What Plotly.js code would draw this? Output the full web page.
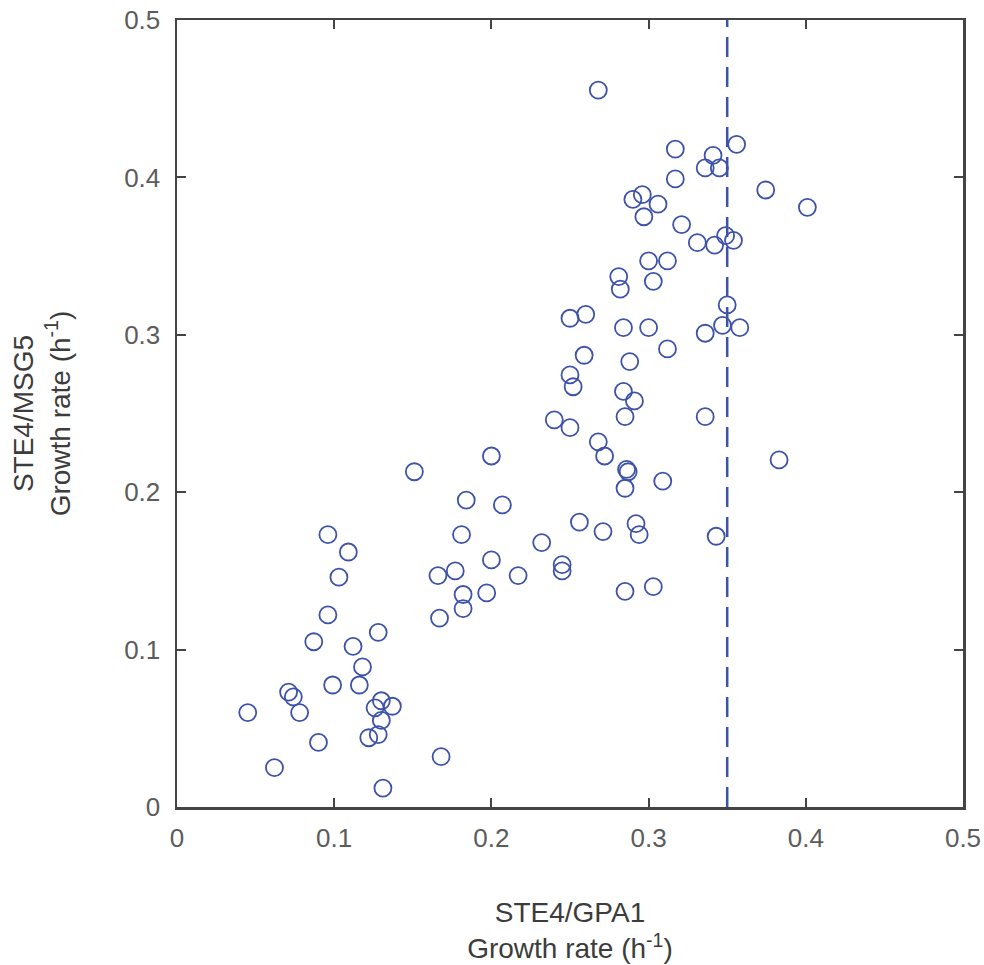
<!DOCTYPE html>
<html>
<head>
<meta charset="utf-8">
<script src="https://cdn.plot.ly/plotly-3.0.1.min.js"></script>
<style>html,body{margin:0;padding:0;background:#fff;}#chart{width:984px;height:965px;}</style>
</head>
<body>
<div id="chart"></div>
<script>
// STE4/GPA1 growth rate (x) vs STE4/MSG5 growth rate (y)
const gpa1Rate = [
  0.096, 0.109, 0.103, 0.096, 0.128, 0.087, 0.112, 0.118, 0.099, 0.116,
  0.071, 0.074, 0.045, 0.078, 0.130, 0.126, 0.137, 0.130, 0.122, 0.128,
  0.090, 0.062, 0.131, 0.168,
  0.166, 0.177, 0.167, 0.182, 0.182, 0.197, 0.200, 0.217, 0.181, 0.184,
  0.207, 0.151, 0.200, 0.232, 0.245, 0.245, 0.256, 0.271, 0.292, 0.294,
  0.285, 0.303, 0.343, 0.286, 0.287, 0.285, 0.309, 0.383, 0.272, 0.268,
  0.240, 0.250, 0.285, 0.336, 0.284, 0.291, 0.252, 0.250, 0.259, 0.288,
  0.312, 0.250, 0.260, 0.284, 0.300, 0.336, 0.347, 0.358, 0.350, 0.281,
  0.303, 0.282, 0.300, 0.312, 0.331, 0.342, 0.349, 0.354, 0.321, 0.297,
  0.290, 0.296, 0.306, 0.3745, 0.401, 0.317, 0.336, 0.345, 0.341, 0.317,
  0.356, 0.268
];
const msg5Rate = [
  0.173, 0.162, 0.146, 0.122, 0.111, 0.105, 0.102, 0.089, 0.0775, 0.0775,
  0.073, 0.070, 0.060, 0.060, 0.0675, 0.063, 0.064, 0.055, 0.044, 0.046,
  0.041, 0.025, 0.012, 0.032,
  0.147, 0.150, 0.120, 0.135, 0.126, 0.136, 0.157, 0.147, 0.173, 0.195,
  0.192, 0.213, 0.223, 0.168, 0.154, 0.150, 0.181, 0.175, 0.180, 0.173,
  0.137, 0.140, 0.172, 0.2145, 0.213, 0.2025, 0.207, 0.2205, 0.223, 0.232,
  0.246, 0.241, 0.248, 0.248, 0.264, 0.258, 0.267, 0.2745, 0.287, 0.283,
  0.291, 0.3105, 0.313, 0.3045, 0.3045, 0.301, 0.306, 0.3045, 0.319, 0.337,
  0.334, 0.329, 0.347, 0.347, 0.3585, 0.357, 0.363, 0.360, 0.370, 0.375,
  0.386, 0.389, 0.383, 0.392, 0.381, 0.399, 0.406, 0.406, 0.414, 0.418,
  0.421, 0.4555
];
const thresholdX = [0.35, 0.35];
const thresholdY = [0, 0.5];
const tickVals = [0, 0.1, 0.2, 0.3, 0.4, 0.5];
const tickText = ['0', '0.1', '0.2', '0.3', '0.4', '0.5'];

const markColor = '#3d52a8';
const axisColor = '#444444';
const tickColor = '#5c5c5c';
const titleColor = '#3c3c3c';
const fontFam = '"Liberation Sans", Arial, sans-serif';

const traces = [
  {
    x: thresholdX, y: thresholdY, type: 'scatter', mode: 'lines',
    line: {color: markColor, width: 2.5, dash: '20px,10px'},
    hoverinfo: 'skip', showlegend: false
  },
  {
    x: gpa1Rate, y: msg5Rate, type: 'scatter', mode: 'markers',
    marker: {symbol: 'circle-open', size: 17, color: markColor, line: {width: 1.8, color: markColor}},
    showlegend: false
  }
];

const axisCommon = {
  range: [0, 0.5], tickvals: tickVals, ticktext: tickText,
  ticks: 'inside', ticklen: 9, tickwidth: 2, tickcolor: axisColor,
  showline: true, linecolor: axisColor, linewidth: 2.5, mirror: 'ticks',
  showgrid: false, zeroline: false,
  tickfont: {family: fontFam, size: 26, color: tickColor},
  automargin: false
};

const layout = {
  width: 984, height: 965,
  margin: {l: 177, r: 21, t: 20, b: 158},
  paper_bgcolor: '#ffffff', plot_bgcolor: '#ffffff',
  showlegend: false,
  xaxis: Object.assign({}, axisCommon, {
    ticklabelstandoff: 6,
    title: {text: 'STE4/GPA1<br>Growth rate (h<sup>-1</sup>)', font: {family: fontFam, size: 28, color: titleColor}, standoff: 51}
  }),
  yaxis: Object.assign({}, axisCommon, {
    ticklabelstandoff: 9,
    title: {text: 'STE4/MSG5<br>Growth rate (h<sup>-1</sup>)', font: {family: fontFam, size: 28, color: titleColor}, standoff: 46}
  })
};

Plotly.newPlot('chart', traces, layout, {displayModeBar: false, staticPlot: true});
</script>
</body>
</html>
